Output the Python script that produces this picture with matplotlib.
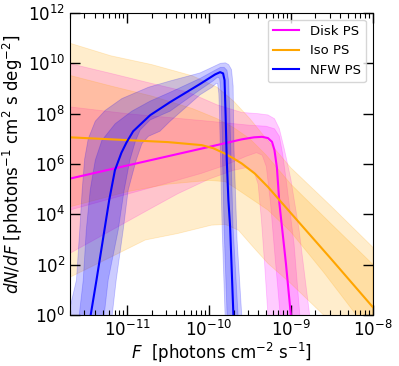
import numpy as np
import matplotlib
matplotlib.use("Agg")
import matplotlib.pyplot as plt
from matplotlib.ticker import FixedLocator, LogLocator, NullLocator, NullFormatter, LogFormatterSciNotation

# ---- data: (log10 F, log10 dN/dF) ----
disk_med = [(-11.70, 5.42), (-11.0, 5.94), (-10.5, 6.31), (-10.0, 6.68), (-9.6, 6.98), (-9.45, 7.06),
            (-9.35, 7.08), (-9.28, 7.03), (-9.23, 6.88), (-9.20, 6.55), (-9.17, 5.85), (-9.14, 4.44),
            (-9.06, 2.05), (-9.0, 0.0), (-8.98, -1.0)]
disk_hi68 = [(-11.70, 8.27), (-11.0, 8.0), (-10.5, 7.85), (-10.0, 7.7), (-9.5, 7.54), (-9.3, 7.5),
             (-9.2, 7.4), (-9.14, 7.1), (-9.1, 6.4), (-9.05, 5.2), (-8.96, 2.8), (-8.89, 0.0)]
disk_hi95 = [(-11.70, 9.99), (-11.2, 9.6), (-10.7, 9.2), (-10.26, 8.86), (-9.9, 8.35), (-9.6, 8.05),
             (-9.4, 8.0), (-9.28, 7.95), (-9.2, 7.8), (-9.14, 7.4), (-9.08, 6.6), (-9.0, 5.4),
             (-8.9, 3.4), (-8.77, 0.0)]
disk_lo68 = [(-11.70, 4.17), (-11.0, 4.8), (-10.5, 5.25), (-10.1, 5.62), (-9.8, 5.95), (-9.55, 6.3),
             (-9.42, 6.45), (-9.35, 6.35), (-9.3, 5.9), (-9.25, 4.5), (-9.19, 2.2), (-9.13, 0.0)]
disk_lo95 = [(-11.70, 2.45), (-11.2, 3.35), (-10.7, 4.25), (-10.38, 4.82), (-10.0, 5.4), (-9.7, 5.75),
             (-9.55, 5.85), (-9.45, 5.7), (-9.40, 5.2), (-9.36, 3.8), (-9.32, 2.0), (-9.28, 0.0)]

iso_med = [(-11.70, 7.06), (-11.0, 6.95), (-10.5, 6.87), (-10.09, 6.75), (-9.95, 6.63), (-9.81, 6.42),
           (-9.70, 6.22), (-9.60, 6.02), (-9.44, 5.62), (-9.28, 5.09), (-9.0, 4.05), (-8.5, 2.2),
           (-8.0, 0.32)]
iso_hi68 = [(-11.70, 9.52), (-11.2, 9.1), (-10.7, 8.7), (-10.2, 8.2), (-9.9, 7.8), (-9.7, 7.45),
            (-9.5, 7.0), (-9.3, 6.35), (-9.0, 5.2), (-8.5, 3.6), (-8.0, 2.02)]
iso_hi95 = [(-11.70, 10.8), (-11.2, 10.3), (-10.7, 9.95), (-10.2, 9.5), (-9.9, 9.05), (-9.7, 8.5),
            (-9.5, 7.8), (-9.3, 7.0), (-9.0, 5.85), (-8.5, 4.3), (-8.0, 2.7)]
iso_lo68 = [(-11.70, 4.3), (-11.0, 4.9), (-10.5, 5.2), (-10.0, 5.35), (-9.8, 5.3), (-9.64, 4.96),
            (-9.28, 4.17), (-9.0, 3.3), (-8.6, 1.7), (-8.2, 0.0)]
iso_lo95 = [(-11.70, 1.5), (-11.2, 2.3), (-10.78, 2.98), (-10.38, 3.24), (-9.97, 3.57), (-9.80, 3.6),
            (-9.64, 3.37), (-9.46, 2.7), (-9.28, 2.05), (-9.0, 1.25), (-8.6, 0.0)]

nfw_med = [(-11.446, 0.0), (-11.375, 1.39), (-11.272, 3.50), (-11.220, 4.56), (-11.150, 5.75),
           (-11.070, 6.45), (-11.009, 6.85), (-10.927, 7.30), (-10.719, 7.94), (-10.475, 8.46),
           (-10.109, 9.18), (-9.925, 9.56), (-9.864, 9.65), (-9.828, 9.60), (-9.810, 9.33),
           (-9.797, 7.94), (-9.783, 6.15), (-9.763, 4.56), (-9.742, 3.50), (-9.702, 0.0), (-9.698, -1.0)]
nfw_hi68 = [(-11.586, 0.0), (-11.537, 1.39), (-11.50, 3.37), (-11.452, 4.96), (-11.39, 6.15),
            (-11.309, 6.94), (-11.147, 7.6), (-10.943, 8.1), (-10.719, 8.5), (-10.475, 8.85),
            (-10.109, 9.4), (-9.925, 9.73), (-9.86, 9.84), (-9.815, 9.84), (-9.78, 9.72), (-9.76, 9.3),
            (-9.745, 7.9), (-9.73, 6.15), (-9.706, 3.5), (-9.645, 0.0)]
nfw_hi95 = [(-11.72, 0.0), (-11.62, 1.39), (-11.58, 3.37), (-11.55, 4.96), (-11.52, 6.2),
            (-11.476, 7.0), (-11.39, 7.7), (-11.269, 8.13), (-11.065, 8.6), (-10.74, 9.05),
            (-10.475, 9.3), (-10.109, 9.62), (-9.925, 9.9), (-9.86, 10.0), (-9.80, 10.02),
            (-9.76, 9.95), (-9.725, 9.75), (-9.705, 9.1), (-9.694, 6.55), (-9.657, 2.98), (-9.60, 0.0)]
nfw_lo68 = [(-11.281, 0.0), (-11.232, 1.39), (-11.11, 3.37), (-11.037, 4.96), (-10.967, 6.15),
            (-10.90, 6.9), (-10.841, 7.35), (-10.72, 7.75), (-10.475, 8.1), (-10.109, 8.95),
            (-9.95, 9.3), (-9.895, 9.45), (-9.87, 9.4), (-9.855, 8.9), (-9.842, 7.5), (-9.834, 6.15),
            (-9.816, 3.5), (-9.779, 0.0)]
nfw_lo95 = [(-11.183, 0.0), (-11.134, 1.39), (-11.049, 3.37), (-10.988, 4.96), (-10.89, 6.15),
            (-10.82, 6.81), (-10.74, 7.1), (-10.60, 7.3), (-10.475, 7.7), (-10.109, 8.75),
            (-9.962, 9.05), (-9.913, 9.2), (-9.895, 9.2), (-9.88, 8.8), (-9.871, 7.9), (-9.859, 6.15),
            (-9.84, 3.5), (-9.804, 0.0)]

labels = ["Disk PS", "Iso PS", "NFW PS"]
colors = ["#ff00ff", "#ffa500", "#0000ff"]
y_ticks = [1e0, 1e2, 1e4, 1e6, 1e8, 1e10, 1e12]
x_ticks = [1e-11, 1e-10, 1e-9, 1e-8]

fig = plt.figure(figsize=(3.99, 3.66), dpi=100)
ax = fig.add_axes([0.1754, 0.1393, 0.7586, 0.8252])
ax.set_xscale("log")
ax.set_yscale("log")

PAD = -3.0


def band(hi, lo, color, alpha):
    hx, hy = np.array(hi).T
    lx, ly = np.array(lo).T
    xs = np.concatenate([[hx[0]], hx, [hx[-1]], [lx[-1]], lx[::-1], [lx[0]]])
    ys = np.concatenate([[PAD], hy, [PAD], [PAD], ly[::-1], [PAD]])
    ax.fill(10 ** xs, 10 ** ys, color=color, alpha=alpha, lw=0.6)


def line(pts, color, label):
    a = np.array(pts)
    ax.plot(10 ** a[:, 0], 10 ** a[:, 1], color=color, lw=1.5, label=label)


series = [
    (disk_med, disk_hi68, disk_lo68, disk_hi95, disk_lo95),
    (iso_med, iso_hi68, iso_lo68, iso_hi95, iso_lo95),
    (nfw_med, nfw_hi68, nfw_lo68, nfw_hi95, nfw_lo95),
]
for (med, h68, l68, h95, l95), c in zip(series, colors):
    band(h95, l95, c, 0.2)
    band(h68, l68, c, 0.2)
for (med, *_), c, lab in zip(series, colors, labels):
    line(med, c, lab)

ax.set_xlim(2e-12, 1e-8)
ax.set_ylim(1, 1e12)
ax.yaxis.set_major_locator(FixedLocator(y_ticks))
ax.yaxis.set_major_formatter(LogFormatterSciNotation())
ax.yaxis.set_minor_locator(NullLocator())
ax.xaxis.set_major_locator(FixedLocator(x_ticks))
ax.xaxis.set_major_formatter(LogFormatterSciNotation())
ax.xaxis.set_minor_locator(LogLocator(base=10, subs=np.arange(2, 10)))
ax.xaxis.set_minor_formatter(NullFormatter())
ax.tick_params(which="both", direction="in", top=True, right=True, labelsize=12)
ax.tick_params(which="major", length=7, width=1)
ax.tick_params(which="minor", length=3.5, width=0.8)

ax.set_xlabel(r"$F$  [photons cm$^{-2}$ s$^{-1}$]", fontsize=12, labelpad=1)
ax.set_ylabel(r"$dN/dF$ [photons$^{-1}$ cm$^{2}$ s deg$^{-2}$]", fontsize=12, labelpad=2)
ax.legend(loc="upper right", fontsize=9.5)

fig.savefig("out.png", dpi=100)
